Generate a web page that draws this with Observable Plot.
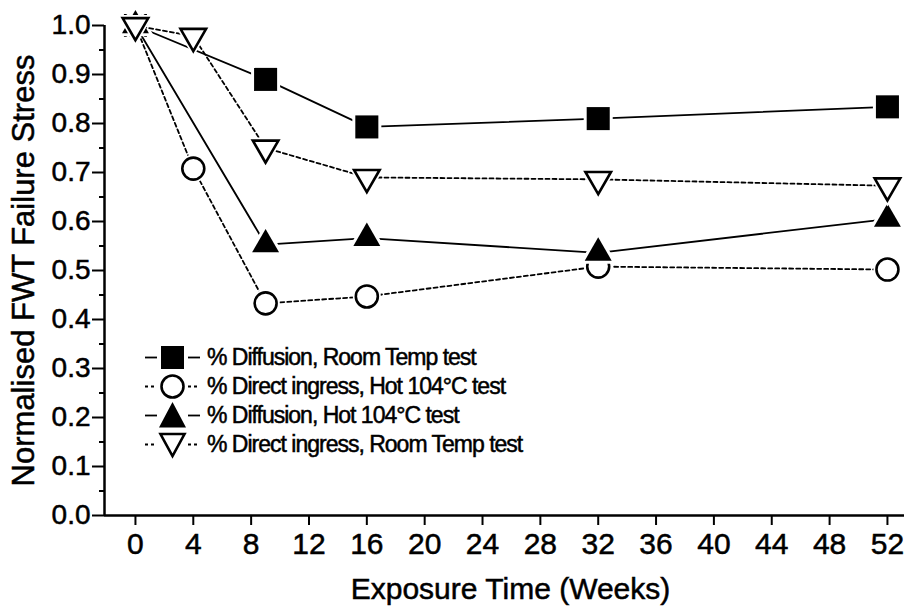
<!DOCTYPE html>
<html>
<head>
<meta charset="utf-8">
<script src="https://cdn.jsdelivr.net/npm/d3@7"></script>
<script src="https://cdn.jsdelivr.net/npm/@observablehq/plot@0.6"></script>
<style>
  html, body { margin: 0; padding: 0; background: #fff; }
  #wrap { position: relative; width: 906px; height: 606px; font-family: "Liberation Sans", Arial, sans-serif; }
  #wrap svg text { stroke: #000; stroke-width: 0.5px; }
  #legend { position: absolute; left: 145px; top: 343px; }
  .row { display: flex; align-items: center; height: 29px; }
  .row span { font-size: 23px; letter-spacing: -1px; margin-left: 6px; color: #000; white-space: nowrap; -webkit-text-stroke: 0.5px #000; }
</style>
</head>
<body>
<div id="wrap"><div id="legend"></div></div>
<script>
// ---- data ----
const weeksDiffRoom = [0, 9, 16, 32, 52];
const diffRoom      = [1.0, 0.89, 0.793, 0.81, 0.834];

const weeksDirectHot = [0, 4, 9, 16, 32, 52];
const directHot      = [1.0, 0.708, 0.433, 0.447, 0.508, 0.502];

const weeksDiffHot = [0, 9, 16, 32, 52];
const diffHot      = [1.0, 0.553, 0.566, 0.536, 0.605];

const weeksDirectRoom = [0, 4, 9, 16, 32, 52];
const directRoom      = [1.0, 0.978, 0.75, 0.69, 0.686, 0.673];

const seriesNames = [
  "% Diffusion, Room Temp test",
  "% Direct ingress, Hot 104°C test",
  "% Diffusion, Hot 104°C test",
  "% Direct ingress, Room Temp test"
];
const xTicks = [0, 4, 8, 12, 16, 20, 24, 28, 32, 36, 40, 44, 48, 52];
const yTicks = [0, 0.1, 0.2, 0.3, 0.4, 0.5, 0.6, 0.7, 0.8, 0.9, 1.0];
const yMinorTicks = [0.05, 0.15, 0.25, 0.35, 0.45, 0.55, 0.65, 0.75, 0.85, 0.95];
const xDomain = [-2.14, 53.18];
const yDomain = [0, 1];

const xTitle = "Exposure Time (Weeks)";
const yTitle = "Normalised FWT Failure Stress";

// ---- build tables ----
const toRows = (xs, ys) => xs.map((x, i) => ({x, y: ys[i]}));
const sDiffRoom = toRows(weeksDiffRoom, diffRoom);
const sDirectHot = toRows(weeksDirectHot, directHot);
const sDiffHot = toRows(weeksDiffHot, diffHot);
const sDirectRoom = toRows(weeksDirectRoom, directRoom);

const dash = "4,3";
const FONT = '"Liberation Sans", Arial, sans-serif';

const plot = Plot.plot({
  width: 906,
  height: 606,
  marginLeft: 104,
  marginRight: 2,
  marginTop: 25,
  marginBottom: 91,
  style: {fontFamily: FONT, background: "white", color: "black"},
  x: {domain: xDomain},
  y: {domain: yDomain},
  marks: [
    // axes
    Plot.axisX({ticks: xTicks, tickSize: 10, tickPadding: 7, fontSize: 30, strokeWidth: 2, label: null, tickFormat: d3.format("d")}),
    Plot.axisY({ticks: yTicks, tickSize: 12, tickPadding: 2, fontSize: 28, strokeWidth: 2, label: null, tickFormat: d3.format(".1f")}),
    Plot.axisY({ticks: yMinorTicks, tickSize: 5, strokeWidth: 2, label: null, tickFormat: () => ""}),
    Plot.ruleY([yDomain[0]], {strokeWidth: 2.5}),
    Plot.ruleX([xDomain[0]], {y1: yDomain[0], y2: yDomain[1], strokeWidth: 2.5}),
    // titles
    Plot.text([xTitle], {frameAnchor: "bottom", dx: 6, dy: 74, fontSize: 30, text: d => d, textAnchor: "middle", lineAnchor: "middle"}),
    Plot.text([yTitle], {frameAnchor: "left", dx: -80, rotate: -90, fontSize: 31, text: d => d, textAnchor: "middle", lineAnchor: "middle"}),
    // series: Diffusion, Room Temp (solid, filled square)
    Plot.line(sDiffRoom, {x: "x", y: "y", stroke: "black", strokeWidth: 1.8}),
    Plot.dot(sDiffRoom, {x: "x", y: "y", symbol: "square", r: 13, fill: "white", stroke: "white", strokeWidth: 6}),
    Plot.dot(sDiffRoom, {x: "x", y: "y", symbol: "square", r: 13, fill: "black", stroke: "none"}),
    // Direct ingress, Hot (dashed, open circle)
    Plot.line(sDirectHot, {x: "x", y: "y", stroke: "black", strokeWidth: 1.8, strokeDasharray: dash}),
    Plot.dot(sDirectHot, {x: "x", y: "y", symbol: "circle", r: 11, fill: "white", stroke: "white", strokeWidth: 6}),
    Plot.dot(sDirectHot, {x: "x", y: "y", symbol: "circle", r: 11, fill: "white", stroke: "black", strokeWidth: 2.6}),
    // Diffusion, Hot (solid, filled triangle up)
    Plot.line(sDiffHot, {x: "x", y: "y", stroke: "black", strokeWidth: 1.8}),
    Plot.dot(sDiffHot, {x: "x", y: "y", symbol: "triangle", r: 10, fill: "white", stroke: "white", strokeWidth: 6}),
    Plot.dot(sDiffHot, {x: "x", y: "y", symbol: "triangle", r: 10, fill: "black", stroke: "none"}),
    // Direct ingress, Room Temp (dashed, open triangle down)
    Plot.line(sDirectRoom, {x: "x", y: "y", stroke: "black", strokeWidth: 1.8, strokeDasharray: dash}),
    Plot.dot(sDirectRoom, {x: "x", y: "y", symbol: "triangle", rotate: 180, r: 9.5, fill: "white", stroke: "white", strokeWidth: 6}),
    Plot.dot(sDirectRoom, {x: "x", y: "y", symbol: "triangle", rotate: 180, r: 9.5, fill: "white", stroke: "black", strokeWidth: 2.6})
  ]
});
document.getElementById("wrap").prepend(plot);

// ---- legend (HTML overlay inside the plot area) ----
const legendStyles = [
  {dash: null, sym: "square"},
  {dash: "3,3", sym: "circle"},
  {dash: null, sym: "tri"},
  {dash: "3,3", sym: "tridown"}
];
const legend = document.getElementById("legend");
seriesNames.forEach((name, i) => {
  const st = legendStyles[i];
  const da = st.dash ? `stroke-dasharray="${st.dash}"` : "";
  let sym = "";
  if (st.sym === "square") sym = `<rect x="16" y="3" width="23" height="23" fill="black"/>`;
  if (st.sym === "circle") sym = `<circle cx="27.5" cy="14.5" r="11" fill="white" stroke="black" stroke-width="2.6"/>`;
  if (st.sym === "tri") sym = `<path d="M27.5,1 L41,26.5 L14,26.5 Z" fill="black"/>`;
  if (st.sym === "tridown") sym = `<path d="M15.5,4 L39.5,4 L27.5,26 Z" fill="white" stroke="black" stroke-width="2.6"/>`;
  const row = document.createElement("div");
  row.className = "row";
  row.innerHTML = `<svg width="56" height="29" viewBox="0 0 56 29">
      <line x1="0" y1="14.5" x2="12" y2="14.5" stroke="black" stroke-width="1.8" ${da}/>
      <line x1="43" y1="14.5" x2="55" y2="14.5" stroke="black" stroke-width="1.8" ${da}/>
      ${sym}</svg><span>${name}</span>`;
  legend.appendChild(row);
});
</script>
</body>
</html>
